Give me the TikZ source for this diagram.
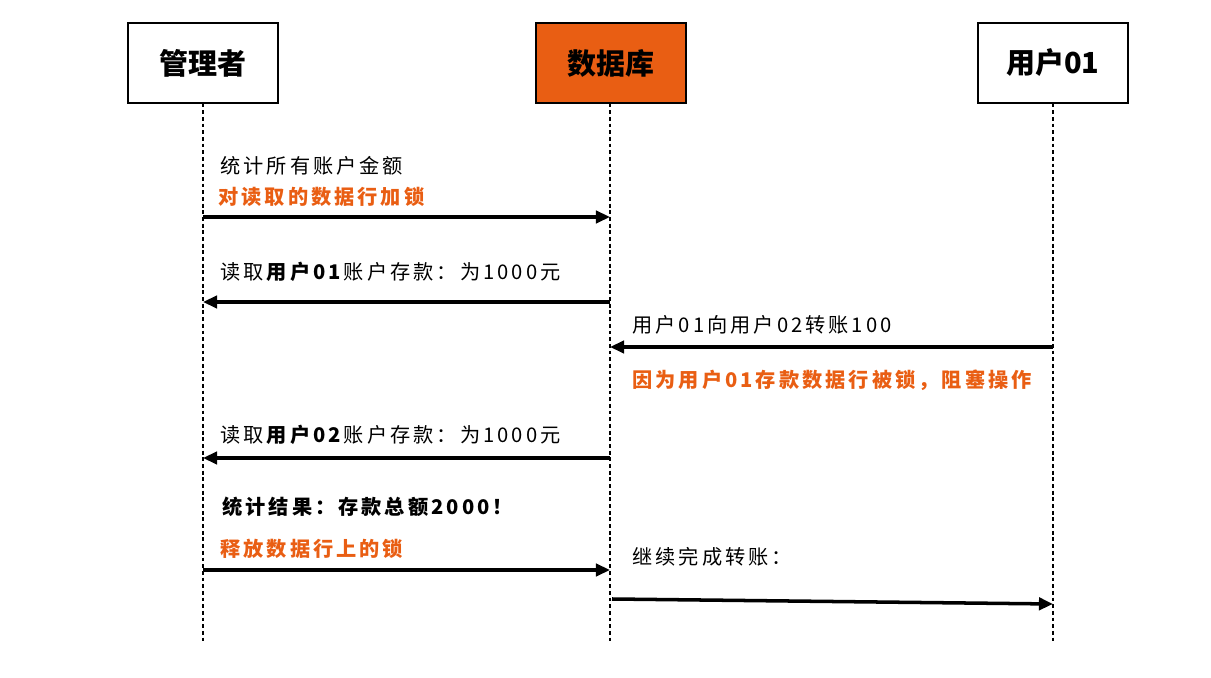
\documentclass[tikz,border=0pt]{standalone}
\usepackage{fontspec}
\newfontfamily\cjk[LetterSpace=15]{Noto Sans CJK SC}
\newfontfamily\cjktitle{Noto Sans CJK SC}
\usetikzlibrary{arrows.meta, positioning}
\definecolor{lockorange}{RGB}{233,94,19}

\begin{document}
\begin{tikzpicture}[
        x=0.02cm, y=-0.02cm,
        every node/.style={font=\cjk\fontsize{11.5}{14}\selectfont},
        actor/.style={rectangle,draw,line width=0.6pt,minimum width=3cm,minimum height=1.6cm,
          font=\cjktitle\fontsize{16.5}{20}\selectfont\bfseries},
        lifeline/.style={dash pattern=on 2.2pt off 1.6pt,line width=0.6pt},
        msg/.style={line width=2pt,-{Triangle[length=8pt,width=7pt]}},
        note/.style={anchor=west,inner sep=0pt},
        warn/.style={note,text=lockorange,font=\cjk\fontsize{11.5}{14}\selectfont\bfseries}
      ]
      \useasboundingbox (0,0) rectangle (1211,678);

      % Actors
      \node[actor] (admin) at (203,63) {管理者};
      \node[actor,fill=lockorange] (db) at (611,63) {数据库};
      \node[actor] (user) at (1053,63) {用户01};

      % Lifelines
      \coordinate (adminEnd) at (203,643);
      \coordinate (dbEnd) at (610,643);
      \coordinate (userEnd) at (1053,643);
      \draw[lifeline] (admin.south) -- (adminEnd);
      \draw[lifeline] (db.south -| dbEnd) -- (dbEnd);
      \draw[lifeline] (user.south) -- (userEnd);

      % Admin sums up all accounts
      \node[note] (sum) at (220,166) {统计所有账户金额};
      \node[warn] (lock) at (218,197) {对读取的数据行加锁};
      \coordinate (a1) at (203,217);
      \coordinate (d1) at (610,217);
      \draw[msg] (a1) -- (d1);

      % Read account 01
      \node[note] (read1) at (220,272) {读取\textbf{用户01}账户存款：为1000元};
      \coordinate (d2) at (610,302);
      \coordinate (a2) at (203,302);
      \draw[msg] (d2) -- (a2);

      % Transfer from user 01
      \node[note] (trans) at (632,325) {用户01向用户02转账100};
      \coordinate (u3) at (1053,347);
      \coordinate (d3) at (610,347);
      \draw[msg] (u3) -- (d3);
      \node[warn] (blocked) at (632,380) {因为用户01存款数据行被锁，阻塞操作};

      % Read account 02
      \node[note] (read2) at (220,435) {读取\textbf{用户02}账户存款：为1000元};
      \coordinate (d4) at (610,458);
      \coordinate (a4) at (203,458);
      \draw[msg] (d4) -- (a4);

      % Result and unlock
      \node[note,font=\cjk\fontsize{11.5}{14}\selectfont\bfseries] (result) at (222,507) {统计结果：存款总额2000！};
      \node[warn] (unlock) at (220,549) {释放数据行上的锁};
      \coordinate (a5) at (203,570);
      \coordinate (d5) at (610,570);
      \draw[msg] (a5) -- (d5);

      % Transfer continues
      \node[note] (cont) at (632,557) {继续完成转账：};
      \coordinate (d6) at (612,599);
      \coordinate (u6) at (1053,604);
      \draw[msg] (d6) -- (u6);
    \end{tikzpicture}
\end{document}
